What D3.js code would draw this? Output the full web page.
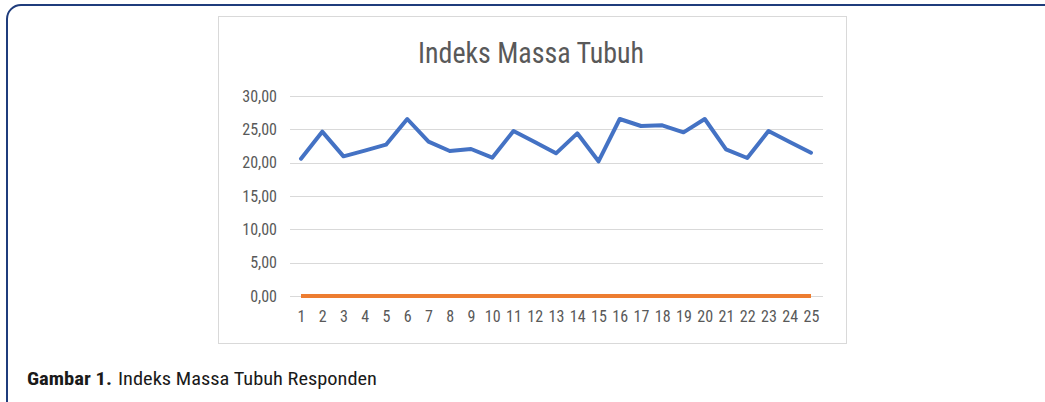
<!DOCTYPE html>
<html>
  <head>
    <meta charset="utf-8">
    <script src="https://cdn.jsdelivr.net/npm/d3@7"></script>
    <style>
      body { margin: 0; background: #ffffff; }
      svg { display: block; }
      .narrow { font-family: "Liberation Sans Narrow", "Arial Narrow", "Roboto Condensed", sans-serif; }
    </style>
  </head>
  <body>
    <script>
      // Respondent numbers on the x axis
      var respondents = [1, 2, 3, 4, 5, 6, 7, 8, 9, 10, 11, 12, 13, 14, 15, 16, 17, 18, 19, 20, 21, 22, 23, 24, 25];
      // Body mass index per respondent (blue line)
      var imt = [20.6, 24.65, 20.95, 21.8, 22.7, 26.55, 23.15, 21.75, 22.05, 20.75, 24.75, 23.1, 21.4,
                 24.4, 20.2, 26.55, 25.5, 25.6, 24.55, 26.55, 22.0, 20.7, 24.75, 23.1, 21.5];
      // Second series, flat at zero (orange line)
      var second = [0, 0, 0, 0, 0, 0, 0, 0, 0, 0, 0, 0, 0, 0, 0, 0, 0, 0, 0, 0, 0, 0, 0, 0, 0];
      // Y tick values
      var yTicks = [0, 5, 10, 15, 20, 25, 30];

      var width = 1045, height = 402;
      var svg = d3.select("body").append("svg").attr("width", width).attr("height", height);

      // Outer frame (runs off the right and bottom edges)
      svg.append("rect").attr("x", 7).attr("y", 5).attr("width", 1060).attr("height", 420)
        .attr("rx", 14).attr("fill", "none").attr("stroke", "#1f3c7c").attr("stroke-width", 2);

      // Chart box
      svg.append("rect").attr("x", 218.5).attr("y", 16.5).attr("width", 628).attr("height", 327)
        .attr("fill", "#ffffff").attr("stroke", "#d9d9d9").attr("stroke-width", 1);

      // Scales
      var x = d3.scalePoint().domain(respondents).range([301, 811]);
      var y = d3.scaleLinear().domain([0, 30]).range([296, 96]);

      // Gridlines
      svg.append("g").selectAll("line").data(yTicks).enter().append("line")
        .attr("x1", 290).attr("x2", 823)
        .attr("y1", function(d){ return Math.round(y(d)) + 0.5; })
        .attr("y2", function(d){ return Math.round(y(d)) + 0.5; })
        .attr("stroke", "#d9d9d9").attr("stroke-width", 1);

      // Y axis labels
      var yAxis = d3.axisLeft(y).tickValues(yTicks).tickSize(0).tickPadding(0)
        .tickFormat(function(d){ return d3.format(".2f")(d).replace(".", ","); });
      var gy = svg.append("g").attr("transform", "translate(277,0)").call(yAxis);
      gy.select(".domain").remove();
      gy.selectAll("text").attr("class", "narrow").attr("font-size", 16).attr("fill", "#595959");

      // X axis labels
      var xAxis = d3.axisBottom(x).tickSize(0).tickPadding(0);
      var gx = svg.append("g").attr("transform", "translate(0,311)").call(xAxis);
      gx.select(".domain").remove();
      gx.selectAll("text").attr("class", "narrow").attr("font-size", 16).attr("fill", "#595959");

      // Lines
      var line = d3.line()
        .x(function(d, i){ return x(respondents[i]); })
        .y(function(d){ return y(d); });

      svg.append("path").datum(second).attr("d", line)
        .attr("fill", "none").attr("stroke", "#ed7d31").attr("stroke-width", 4)
        .attr("stroke-linejoin", "round");
      svg.append("path").datum(imt).attr("d", line)
        .attr("fill", "none").attr("stroke", "#4472c4").attr("stroke-width", 4)
        .attr("stroke-linejoin", "round").attr("stroke-linecap", "round");

      // Chart title
      svg.append("text").attr("class", "narrow").attr("x", 531).attr("y", 63)
        .attr("text-anchor", "middle").attr("font-size", 29).attr("fill", "#595959")
        .attr("textLength", 226).attr("lengthAdjust", "spacingAndGlyphs")
        .text("Indeks Massa Tubuh");

      // Caption
      svg.append("text").attr("class", "narrow").attr("x", 27).attr("y", 385)
        .attr("font-size", 18).attr("font-weight", "bold").attr("fill", "#1a1a1a")
        .attr("textLength", 85).attr("lengthAdjust", "spacingAndGlyphs")
        .text("Gambar 1.");
      svg.append("text").attr("class", "narrow").attr("x", 118).attr("y", 385)
        .attr("font-size", 18).attr("fill", "#1a1a1a")
        .attr("textLength", 259).attr("lengthAdjust", "spacingAndGlyphs")
        .text("Indeks Massa Tubuh Responden");
    </script>
  </body>
</html>
